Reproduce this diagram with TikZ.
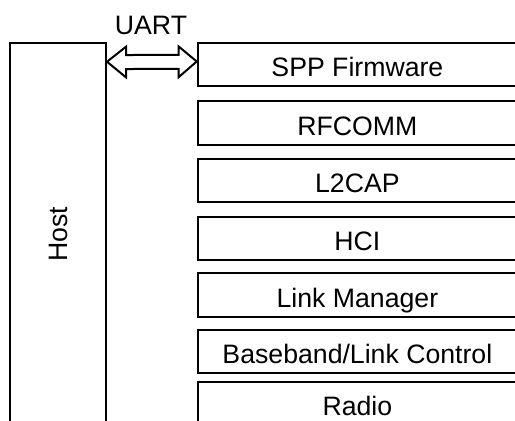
\documentclass[tikz,border=0pt]{standalone}
\usepackage{fontspec}
\setmainfont{Liberation Sans}
\usetikzlibrary{calc}

\tikzset{
  layerbox/.style={draw, line width=1.5pt, minimum width=239.5pt, minimum height=32.4pt, inner sep=0pt,
    text height=20pt, text depth=2pt, font=\fontsize{20}{23}\selectfont},
  hostbox/.style={draw, line width=1.5pt, minimum width=72pt, minimum height=286.3pt, inner sep=0pt,
    font=\fontsize{20}{23}\selectfont},
}

\begin{document}
\begin{tikzpicture}[x=0.75pt,y=0.75pt,yscale=-1,xscale=1]
\useasboundingbox (0,0) rectangle (515,421);

%Shape: Rectangle [id:host]
\node (host) [hostbox] at (58,234.2) {\rotatebox{90}{Host}};

%Shape: Rectangle [id:stack]
\node (spp) [layerbox] at (357.4,64.7) {SPP Firmware};
\node (rfcomm) [layerbox] at (357.4,123) {RFCOMM};
\node (ltcap) [layerbox] at (357.4,180.3) {L2CAP};
\node (hci) [layerbox] at (357.4,238.3) {HCI};
\node (lm) [layerbox] at (357.4,295) {Link Manager};
\node (bb) [layerbox] at (357.4,351.2) {Baseband/Link Control};
\node (radio) [layerbox] at (357.4,403.3) {Radio};

%Double Arrow [id:uart]
\coordinate (uartL) at ($(host.north east)+(0,19.4)$);
\coordinate (uartR) at ($(spp.north west)+(0,19.4)$);
\draw [line width=1.5pt, line join=miter] (uartL) -- ++(19,-15) -- ++(0,8.3) -- ($(uartR)+(-18,-6.7)$) -- ++(0,-8.3) -- (uartR) -- ++(-18,15.6) -- ++(0,-8.3) -- ($(uartL)+(19,7.3)$) -- ++(0,8.3) -- cycle;

% Text Node
\node (uartlbl) [font=\fontsize{20}{23}\selectfont] at (151,25.5) {UART};

\end{tikzpicture}
\end{document}
